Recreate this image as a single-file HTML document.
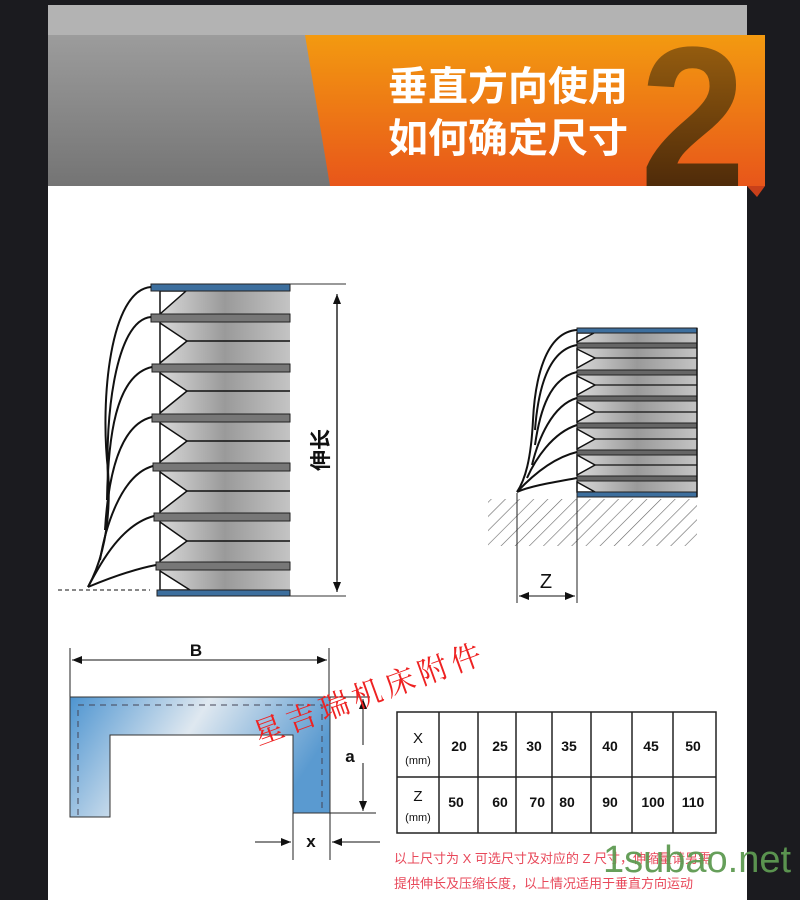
<!DOCTYPE html>
<html><head><meta charset="utf-8"><style>
body{margin:0;background:#1b1b1f;}
svg{display:block}
</style></head><body>
<svg width="800" height="900" viewBox="0 0 800 900" xmlns="http://www.w3.org/2000/svg" font-family="Liberation Sans, Noto Sans CJK SC, sans-serif">
<defs>
<linearGradient id="gg" x1="0" y1="0" x2="0" y2="1"><stop offset="0" stop-color="#9c9c9c"/><stop offset="1" stop-color="#747474"/></linearGradient>
<linearGradient id="og" x1="0" y1="0" x2="0" y2="1"><stop offset="0" stop-color="#f39a10"/><stop offset="1" stop-color="#e8561a"/></linearGradient>
<linearGradient id="tg" x1="0" y1="0" x2="0" y2="1"><stop offset="0" stop-color="#a86a10"/><stop offset="1" stop-color="#3a1c08"/></linearGradient>
<linearGradient id="bg" x1="0" y1="0" x2="1" y2="0"><stop offset="0" stop-color="#d8d8d8"/><stop offset="0.5" stop-color="#9a9a9a"/><stop offset="1" stop-color="#c4c4c4"/></linearGradient>
<linearGradient id="ug" x1="0" y1="0" x2="1" y2="0.3"><stop offset="0" stop-color="#4d94d0"/><stop offset="0.5" stop-color="#dfe8f0"/><stop offset="1" stop-color="#5a9ad0"/></linearGradient>
<pattern id="hatch" width="10" height="10" patternUnits="userSpaceOnUse" patternTransform="rotate(45)"><line x1="0" y1="0" x2="0" y2="10" stroke="#666" stroke-width="1.2"/></pattern>
<marker id="ar" markerWidth="10" markerHeight="8" refX="10" refY="4" orient="auto" markerUnits="userSpaceOnUse"><path d="M0,0 L10,4 L0,8 Z" fill="#111"/></marker>
</defs>
<rect x="48" y="5" width="699" height="895" fill="#fff"/>
<rect x="48" y="5" width="699" height="30" fill="#b3b3b3"/>
<rect x="48" y="35" width="699" height="151" fill="url(#gg)"/>
<polygon points="305,35 765,35 765,186 330,186" fill="url(#og)"/>
<polygon points="747,186 765,186 757,197" fill="#c8401a"/>
<text transform="translate(640,186) scale(0.95,1)" font-size="200" font-weight="bold" fill="url(#tg)" font-family="Liberation Sans, sans-serif">2</text>
<text x="388" y="100" font-size="40" font-weight="bold" fill="#fff" font-family="Noto Sans CJK SC, sans-serif">垂直方向使用</text>
<text x="388" y="152" font-size="40" font-weight="bold" fill="#fff" font-family="Noto Sans CJK SC, sans-serif">如何确定尺寸</text>

<!-- left bellows -->
<rect x="160" y="291" width="130" height="299" fill="url(#bg)"/>
<g fill="#fff" stroke="#111" stroke-width="1.5">
<path d="M160,291 L186,291 L160,314 Z"/>
<path d="M160,323 L187,341 L160,363 Z"/>
<path d="M160,373 L187,391 L160,413 Z"/>
<path d="M160,423 L187,441 L160,462 Z"/>
<path d="M160,472 L187,491 L160,512 Z"/>
<path d="M160,522 L187,541 L160,561 Z"/>
<path d="M160,571 L190,590 L160,590 Z"/>
</g>
<g stroke="#111" stroke-width="1.5"><line x1="187" y1="341" x2="290" y2="341"/><line x1="187" y1="391" x2="290" y2="391"/><line x1="187" y1="441" x2="290" y2="441"/><line x1="187" y1="491" x2="290" y2="491"/><line x1="187" y1="541" x2="290" y2="541"/></g>
<g fill="#777" stroke="#222" stroke-width="1"><rect x="151" y="314" width="139" height="8"/><rect x="152" y="364" width="138" height="8"/><rect x="152" y="414" width="138" height="8"/><rect x="153" y="463" width="137" height="8"/><rect x="154" y="513" width="136" height="8"/><rect x="156" y="562" width="134" height="8"/></g>
<rect x="151" y="284" width="139" height="7" fill="#3d6f9e" stroke="#222"/>
<rect x="157" y="590" width="133" height="6" fill="#3d6f9e" stroke="#222"/>
<g fill="none" stroke="#111" stroke-width="2">
<path d="M151,287 C110,290 100,400 108,470 C112,530 100,565 88,587"/>
<path d="M151,317 C115,320 105,420 108,480"/>
<path d="M152,367 C115,375 108,440 107,500"/>
<path d="M152,417 C118,425 108,480 105,530"/>
<path d="M153,466 C120,475 105,530 100,560"/>
<path d="M154,516 C120,525 100,565 88,587"/>
<path d="M156,565 C130,570 100,582 88,587"/>
</g>
<line x1="58" y1="590" x2="150" y2="590" stroke="#111" stroke-dasharray="4,3"/>
<line x1="290" y1="284" x2="346" y2="284" stroke="#333"/><line x1="290" y1="596" x2="346" y2="596" stroke="#333"/>
<line x1="337" y1="580" x2="337" y2="294" stroke="#111" stroke-width="1.2" marker-end="url(#ar)"/>
<line x1="337" y1="300" x2="337" y2="592" stroke="#111" stroke-width="1.2" marker-end="url(#ar)"/>
<text transform="translate(328,450) rotate(-90)" font-size="21" font-weight="bold" text-anchor="middle" fill="#111" font-family="Noto Sans CJK SC, sans-serif">伸长</text>

<!-- right bellows -->
<rect x="577" y="333" width="120" height="159" fill="url(#bg)"/>
<g stroke="#111" stroke-width="1.5" fill="#fff">
<path d="M577,333 L594,333 L577,342 Z"/>
<path d="M577,349 L595,358 L577,368 Z"/>
<path d="M577,376 L595,385 L577,395 Z"/>
<path d="M577,402 L595,412 L577,422 Z"/>
<path d="M577,429 L595,439 L577,449 Z"/>
<path d="M577,455 L595,465 L577,475 Z"/>
<path d="M577,482 L595,492 L577,492 Z"/>
</g>
<g stroke="#111" stroke-width="1.3"><line x1="595" y1="358" x2="697" y2="358"/><line x1="595" y1="385" x2="697" y2="385"/><line x1="595" y1="412" x2="697" y2="412"/><line x1="595" y1="439" x2="697" y2="439"/><line x1="595" y1="465" x2="697" y2="465"/></g>
<g fill="#666" stroke="#222" stroke-width="1"><rect x="577" y="343" width="120" height="5"/><rect x="577" y="370" width="120" height="5"/><rect x="577" y="396" width="120" height="5"/><rect x="577" y="423" width="120" height="5"/><rect x="577" y="450" width="120" height="5"/><rect x="577" y="476" width="120" height="5"/></g>
<rect x="577" y="328" width="120" height="5" fill="#3d6f9e" stroke="#222"/>
<rect x="577" y="492" width="120" height="5" fill="#3d6f9e" stroke="#222"/>
<line x1="697" y1="328" x2="697" y2="497" stroke="#111" stroke-width="1.5"/>
<g fill="none" stroke="#111" stroke-width="2">
<path d="M577,330 C545,332 535,380 533,420 C531,460 525,480 517,492"/>
<path d="M577,345 C548,350 538,390 535,430"/>
<path d="M577,372 C550,378 540,410 535,445"/>
<path d="M577,398 C552,405 538,440 532,465"/>
<path d="M577,425 C552,433 535,460 527,478"/>
<path d="M577,452 C552,458 530,478 517,492"/>
<path d="M577,478 C555,482 530,486 517,492"/>
</g>
<rect x="488" y="499" width="209" height="47" fill="url(#hatch)"/>
<line x1="517" y1="493" x2="517" y2="603" stroke="#222"/><line x1="577" y1="497" x2="577" y2="603" stroke="#222"/>
<line x1="577" y1="497" x2="697" y2="497" stroke="#222"/>
<line x1="540" y1="596" x2="519" y2="596" stroke="#111" marker-end="url(#ar)"/>
<line x1="550" y1="596" x2="575" y2="596" stroke="#111" marker-end="url(#ar)"/>
<line x1="535" y1="596" x2="555" y2="596" stroke="#111"/>
<text x="546" y="588" font-size="20" text-anchor="middle" fill="#111">Z</text>

<!-- U shape -->
<line x1="70" y1="648" x2="70" y2="697" stroke="#222"/><line x1="329" y1="648" x2="329" y2="697" stroke="#222"/>
<line x1="150" y1="660" x2="72" y2="660" stroke="#111" marker-end="url(#ar)"/>
<line x1="150" y1="660" x2="327" y2="660" stroke="#111" marker-end="url(#ar)"/>
<text x="196" y="656" font-size="17" font-weight="bold" text-anchor="middle" fill="#111">B</text>
<path d="M70,697 L330,697 L330,813 L293,813 L293,735 L110,735 L110,817 L70,817 Z" fill="url(#ug)" stroke="#333"/>
<path d="M78,815 L78,705 L322,705 L322,812" fill="none" stroke="#445" stroke-dasharray="6,5"/>
<line x1="330" y1="697" x2="370" y2="697" stroke="#222"/><line x1="330" y1="813" x2="376" y2="813" stroke="#222"/>
<line x1="363" y1="760" x2="363" y2="699" stroke="#111" marker-end="url(#ar)"/>
<line x1="363" y1="760" x2="363" y2="811" stroke="#111" marker-end="url(#ar)"/>
<rect x="355" y="745" width="14" height="18" fill="#fff"/>
<text x="350" y="762" font-size="17" font-weight="bold" text-anchor="middle" fill="#111">a</text>
<line x1="293" y1="813" x2="293" y2="860" stroke="#222"/><line x1="330" y1="813" x2="330" y2="860" stroke="#222"/>
<line x1="255" y1="842" x2="291" y2="842" stroke="#111" marker-end="url(#ar)"/>
<line x1="380" y1="842" x2="332" y2="842" stroke="#111" marker-end="url(#ar)"/>
<text x="311" y="847" font-size="17" font-weight="bold" text-anchor="middle" fill="#111">x</text>
<text transform="translate(258,745) rotate(-20)" font-size="30" fill="#ee2222" font-family="Noto Serif CJK SC, serif" letter-spacing="5">星吉瑞机床附件</text>

<!-- table -->
<g stroke="#222" stroke-width="1.5" fill="none">
<rect x="397" y="712" width="319" height="121"/>
<line x1="397" y1="777" x2="716" y2="777"/>
<line x1="439" y1="712" x2="439" y2="833"/><line x1="478" y1="712" x2="478" y2="833"/><line x1="516" y1="712" x2="516" y2="833"/><line x1="552" y1="712" x2="552" y2="833"/><line x1="591" y1="712" x2="591" y2="833"/><line x1="632" y1="712" x2="632" y2="833"/><line x1="673" y1="712" x2="673" y2="833"/>
</g>
<g font-size="14" font-weight="bold" fill="#111" text-anchor="middle">
<text x="418" y="743" font-weight="normal" font-size="15">X</text><text x="418" y="764" font-weight="normal" font-size="11">(mm)</text>
<text x="418" y="801" font-weight="normal" font-size="15">Z</text><text x="418" y="821" font-weight="normal" font-size="11">(mm)</text>
<text x="459" y="751">20</text><text x="500" y="751">25</text><text x="534" y="751">30</text><text x="569" y="751">35</text><text x="610" y="751">40</text><text x="651" y="751">45</text><text x="693" y="751">50</text>
<text x="456" y="807">50</text><text x="500" y="807">60</text><text x="545" y="807" text-anchor="end">70</text><text x="567" y="807">80</text><text x="610" y="807">90</text><text x="653" y="807">100</text><text x="693" y="807">110</text>
</g>
<g font-size="13" fill="#e8485a" font-family="Liberation Sans, Noto Sans CJK SC, sans-serif">
<text x="394" y="863">以上尺寸为 X 可选尺寸及对应的 Z 尺寸，伸缩量请另需</text>
<text x="394" y="888">提供伸长及压缩长度，以上情况适用于垂直方向运动</text>
</g>
<text x="603" y="872" font-size="38" fill="#5e9a52" opacity="0.95">1subao.net</text>
</svg>
</body></html>
